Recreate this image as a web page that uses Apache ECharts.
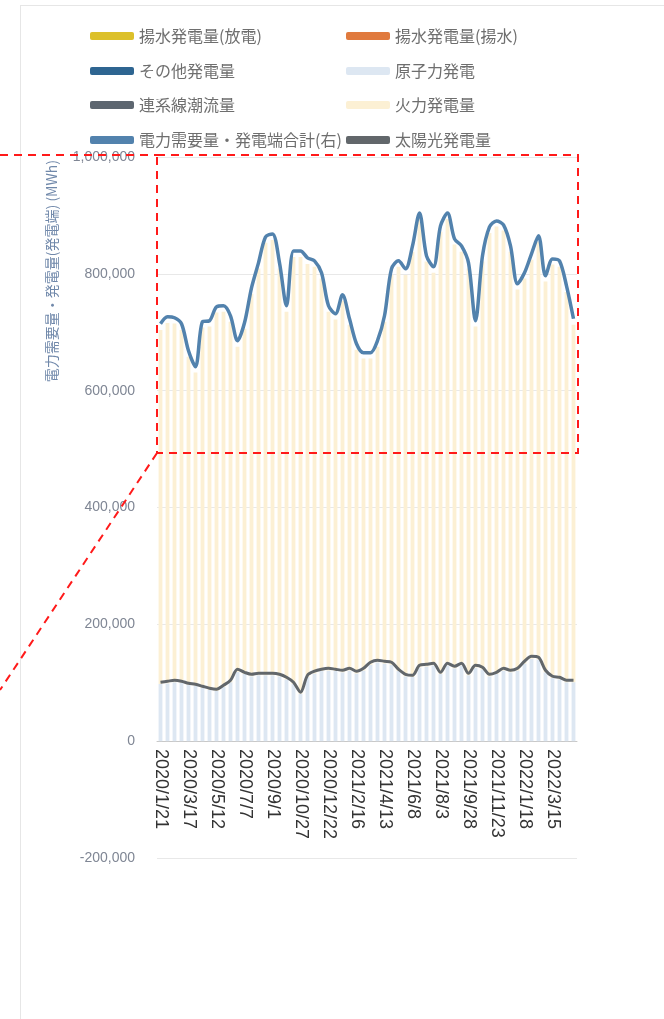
<!DOCTYPE html>
<html><head><meta charset="utf-8">
<script src="https://cdn.jsdelivr.net/npm/echarts@6/dist/echarts.min.js"></script>
<style>
html,body{margin:0;padding:0;background:#fff;overflow:hidden}
#frame{position:absolute;left:20px;top:5px;width:720px;height:1100px;border:1px solid #e6e6e6;box-sizing:border-box}
#chart{position:absolute;left:0;top:0;width:664px;height:1019px}
</style></head>
<body>
<div id="frame"></div>
<div id="chart"></div>
<script>
const categories = ["2020/1/21","2020/2/4","2020/2/18","2020/3/3","2020/3/17","2020/3/31","2020/4/14","2020/4/28","2020/5/12","2020/5/26","2020/6/9","2020/6/23","2020/7/7","2020/7/21","2020/8/4","2020/8/18","2020/9/1","2020/9/15","2020/9/29","2020/10/13","2020/10/27","2020/11/10","2020/11/24","2020/12/8","2020/12/22","2021/1/5","2021/1/19","2021/2/2","2021/2/16","2021/3/2","2021/3/16","2021/3/30","2021/4/13","2021/4/27","2021/5/11","2021/5/25","2021/6/8","2021/6/22","2021/7/6","2021/7/20","2021/8/3","2021/8/17","2021/8/31","2021/9/14","2021/9/28","2021/10/12","2021/10/26","2021/11/9","2021/11/23","2021/12/7","2021/12/21","2022/1/4","2022/1/18","2022/2/1","2022/2/15","2022/3/1","2022/3/15","2022/3/29","2022/4/12","2022/4/26"];

const seriesNames = ["揚水発電量(放電)","揚水発電量(揚水)","その他発電量","原子力発電","連系線潮流量","火力発電量","電力需要量・発電端合計(右)","太陽光発電量"];

const pumpDischarge = [];
const pumpCharge = [];
const otherGen = [];
const nuclear = [98000,99000,101000,100000,96000,95000,91000,88000,86000,93000,101000,119000,115000,111000,113000,113000,113000,111000,106000,98000,81000,110000,116000,120000,121000,120000,118000,121000,116000,121000,131000,135000,133000,131000,120000,111000,110000,126000,128000,130000,115000,130000,125000,130000,113000,126000,123000,111000,115000,121000,118000,121000,133000,141000,140000,118000,108000,106000,101000,101000];
const interconnect = [];
const thermal = [606000,617000,614000,604000,562000,536000,617000,622000,648000,642000,617000,556000,591000,655000,696000,740000,745000,698000,629000,731000,748000,707000,696000,672000,614000,602000,636000,592000,554000,534000,524000,540000,585000,667000,692000,687000,728000,768000,693000,672000,757000,764000,725000,708000,696000,584000,698000,759000,766000,753000,720000,652000,659000,683000,715000,669000,708000,706000,668000,612000];
const demandTotal = [714500,726500,724800,714500,668400,641000,718000,719700,743600,745300,728200,685500,716200,776100,818800,863200,868400,818800,745300,839300,839300,827400,822200,801700,745300,731600,764100,723100,680300,665000,665000,685500,728200,808500,822200,808500,847900,904300,830800,812000,882000,904300,859800,847900,818800,719700,830800,880300,890600,883700,847900,782900,801700,834200,865000,796600,825600,822200,779500,723100];
const solar = [100900,102600,104300,102600,99100,97400,94000,90600,88900,95700,104300,123100,117900,114500,116200,116200,116200,114500,109400,100900,83800,112800,119700,123100,124800,123100,121400,124800,119700,124800,135000,138500,136800,135000,123100,114500,112800,129900,131600,133300,117900,133300,128200,133300,116200,129900,126500,114500,117900,124800,121400,124800,136800,145300,143600,121400,111100,109400,104300,104300];

const yTicks = {min: -200000, max: 1000000, interval: 200000};
const yAxisName = "電力需要量・発電量(発電端) (MWh)";

const colors = ["#dcc02a","#e07a3e","#2e6591","#dde7f2","#5d6670","#fcf0d4","#5282ad","#62676b"];

const chart = echarts.init(document.getElementById('chart'), null, {renderer:'canvas'});

const legendPos = [[85,23],[341,23],[85,58],[341,58],[85,92],[341,92],[85,127],[341,127]];
const legends = seriesNames.map((n,i)=>({
  data:[n], left: legendPos[i][0], top: legendPos[i][1],
  icon:'roundRect', itemWidth:44, itemHeight:8, itemGap:8,
  textStyle:{fontSize:16, color:'#6e6e6e', fontFamily:'"Noto Sans CJK JP", sans-serif'}
}));

const barData = [pumpDischarge, pumpCharge, otherGen, nuclear, interconnect, thermal];
const series = [];
for (let i=0;i<6;i++){
  series.push({
    name: seriesNames[i], type:'bar', stack:'gen', data: barData[i],
    barCategoryGap:'45%', itemStyle:{color: colors[i]}, emphasis:{disabled:true}
  });
}
series.push({name: seriesNames[6], type:'line', data: demandTotal, smooth:0.3, showSymbol:false, symbol:'none',
  lineStyle:{width:3.5, color: colors[6]}, itemStyle:{color: colors[6]}, z:5});
series.push({name: seriesNames[7], type:'line', data: solar, smooth:0.3, showSymbol:false, symbol:'none',
  lineStyle:{width:3, color: colors[7]}, itemStyle:{color: colors[7]}, z:5});

const red = '#ff1a1a';
chart.setOption({
  animation:false,
  backgroundColor:'transparent',
  legend: legends,
  grid:{left:157, right:87, top:157, bottom:161, containLabel:false},
  xAxis:{type:'category', data:categories, offset:-117,
    axisLine:{onZero:false, lineStyle:{color:'#c8c8c8'}},
    axisTick:{show:false},
    axisLabel:{rotate:-90, interval:3, fontSize:18, color:'#333333', margin:8, fontFamily:'"Liberation Sans", sans-serif'}
  },
  yAxis:{type:'value', min:yTicks.min, max:yTicks.max, interval:yTicks.interval,
    axisLine:{show:false}, axisTick:{show:false},
    splitLine:{lineStyle:{color:'#e8e8e8'}},
    axisLabel:{fontSize:14, color:'#7f8694', margin:22, formatter:v=>v.toLocaleString('en-US')}
  },
  series: series,
  graphic:[
    {type:'text', x:52, y:160, rotation:Math.PI/2, z:10,
      style:{text:yAxisName, fill:'#7088aa', font:'14px "Noto Sans CJK JP", sans-serif', align:'right', verticalAlign:'middle'}},
    {type:'rect', shape:{x:157, y:155, width:421, height:298}, z:100,
      style:{fill:null, stroke:red, lineWidth:2, lineDash:[8,6]}},
    {type:'line', shape:{x1:0, y1:155, x2:157, y2:155}, z:100,
      style:{stroke:red, lineWidth:2, lineDash:[8,6]}},
    {type:'line', shape:{x1:157, y1:453, x2:0, y2:690}, z:100,
      style:{stroke:red, lineWidth:2, lineDash:[8,6]}}
  ]
});
</script>
</body></html>
